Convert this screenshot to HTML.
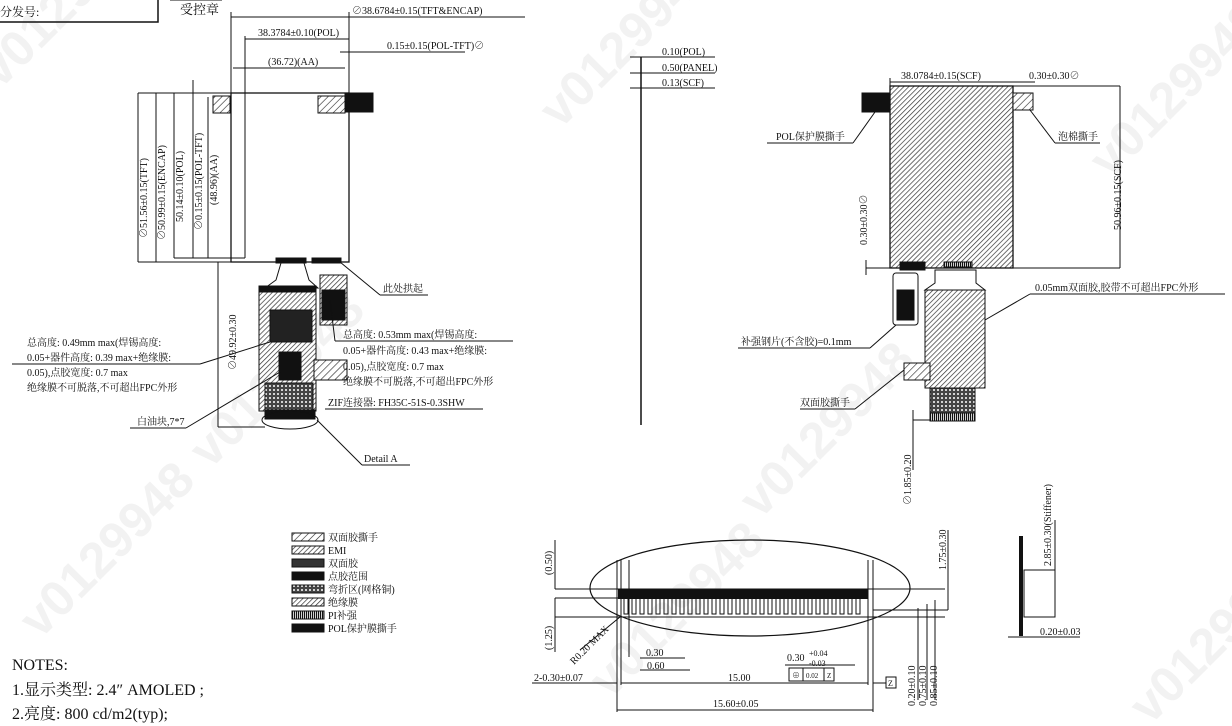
<!DOCTYPE html>
<html><head><meta charset="utf-8"><style>
html,body{margin:0;padding:0;background:#fff;}
svg{display:block;}
text{font-family:"Liberation Serif","Noto Serif CJK SC","Noto Sans CJK SC",serif;fill:#111;}
.s{font-size:10px;}
.wm text{font-family:"Liberation Sans",sans-serif;font-weight:bold;font-size:50px;fill:#f2f2f2;}
</style></head><body>
<svg width="1232" height="726" viewBox="0 0 1232 726" xmlns="http://www.w3.org/2000/svg">
<defs>
<pattern id="h" width="5" height="5" patternUnits="userSpaceOnUse" patternTransform="rotate(45)"><rect width="5" height="5" fill="#fff"/><line x1="0" y1="0" x2="0" y2="5" stroke="#222" stroke-width="1.2"/></pattern>
<pattern id="hd" width="3.5" height="3.5" patternUnits="userSpaceOnUse" patternTransform="rotate(45)"><rect width="4" height="4" fill="#fff"/><line x1="0" y1="0" x2="0" y2="4" stroke="#333" stroke-width="1.4"/></pattern>
<pattern id="m" width="4" height="4" patternUnits="userSpaceOnUse"><rect width="4" height="4" fill="#444"/><circle cx="2" cy="2" r="1" fill="#fff"/></pattern>
<pattern id="v" width="2" height="4" patternUnits="userSpaceOnUse"><rect width="2" height="4" fill="#fff"/><rect width="1.2" height="4" fill="#111"/></pattern>
</defs>
<g class="wm">
<text transform="translate(0,90) rotate(-45)">v0129948</text>
<text transform="translate(560,130) rotate(-45)">v0129948</text>
<text transform="translate(1110,180) rotate(-45)">v0129948</text>
<text transform="translate(210,470) rotate(-45)">v0129948</text>
<text transform="translate(760,520) rotate(-45)">v0129948</text>
<text transform="translate(40,640) rotate(-45)">v0129948</text>
<text transform="translate(610,700) rotate(-45)">v0129948</text>
<text transform="translate(1150,726) rotate(-45)">v0129948</text>
</g>
<g stroke="#111" fill="none" stroke-width="1">
<rect x="-2" y="-2" width="160" height="24" stroke-width="1.5"/>
<line x1="170" y1="0" x2="222" y2="0"/>
<line x1="231" y1="17" x2="525" y2="17"/><line x1="231" y1="12" x2="231" y2="93"/><line x1="349" y1="12" x2="349" y2="262"/>
<line x1="245" y1="39" x2="349" y2="39"/><line x1="245" y1="36" x2="245" y2="93"/>
<line x1="340" y1="52" x2="465" y2="52"/>
<line x1="233" y1="68" x2="345" y2="68"/>
<line x1="138" y1="93" x2="349" y2="93"/><line x1="138" y1="262" x2="349" y2="262"/>
<line x1="138" y1="93" x2="138" y2="262"/><line x1="156" y1="93" x2="156" y2="262"/><line x1="174" y1="93" x2="174" y2="258"/><line x1="193" y1="80" x2="193" y2="258"/><line x1="208" y1="97" x2="208" y2="258"/>
<line x1="174" y1="258" x2="245" y2="258"/>
<rect x="231" y="93" width="118" height="169" stroke-width="1.3"/>
<line x1="245" y1="93" x2="245" y2="258"/>
<rect x="213" y="96" width="17" height="17" fill="url(#h)"/>
<rect x="318" y="96" width="27" height="17" fill="url(#h)"/>
<rect x="345" y="93" width="28" height="19" fill="#111"/>
<rect x="276" y="258" width="30" height="5" fill="#111"/>
<rect x="312" y="258" width="29" height="5" fill="#111"/>
<path d="M281 263 L276 280 L265 288 L318 288 L309 280 L304 263"/>
<rect x="259" y="286" width="57" height="125" fill="url(#hd)"/>
<rect x="259" y="286" width="57" height="6" fill="#111"/>
<rect x="270" y="310" width="42" height="32" fill="#222"/>
<rect x="279" y="352" width="22" height="28" fill="#111"/>
<rect x="265" y="383" width="48" height="27" fill="url(#m)"/>
<rect x="265" y="410" width="50" height="9" fill="#111"/>
<ellipse cx="290" cy="420" rx="28" ry="9"/>
<rect x="320" y="275" width="27" height="50" fill="url(#hd)"/>
<rect x="322" y="290" width="23" height="30" fill="#111"/>
<rect x="314" y="360" width="33" height="20" fill="url(#h)"/>
<line x1="218" y1="262" x2="218" y2="427"/><line x1="218" y1="427" x2="265" y2="427"/>
<line x1="340" y1="262" x2="380" y2="295"/><line x1="380" y1="295" x2="428" y2="295"/>
<line x1="12" y1="364" x2="200" y2="364"/><line x1="200" y1="364" x2="270" y2="342"/>
<line x1="335" y1="341" x2="513" y2="341"/><line x1="335" y1="341" x2="330" y2="300"/>
<line x1="325" y1="409" x2="483" y2="409"/>
<line x1="130" y1="428" x2="186" y2="428"/><line x1="186" y1="428" x2="280" y2="372"/>
<line x1="317" y1="420" x2="362" y2="465"/><line x1="362" y1="465" x2="410" y2="465"/>
<line x1="641" y1="57" x2="641" y2="425" stroke-width="1.5"/>
<line x1="630" y1="57" x2="715" y2="57"/><line x1="630" y1="73" x2="715" y2="73"/><line x1="630" y1="88" x2="715" y2="88"/>
<rect x="890" y="86" width="123" height="182" fill="url(#hd)" stroke-width="1.3"/>
<rect x="862" y="93" width="28" height="19" fill="#111"/>
<rect x="1013" y="93" width="20" height="17" fill="url(#h)"/>
<line x1="890" y1="82" x2="1013" y2="82"/><line x1="890" y1="78" x2="890" y2="86"/><line x1="1013" y1="82" x2="1035" y2="82"/>
<line x1="1013" y1="86" x2="1120" y2="86"/><line x1="1120" y1="86" x2="1120" y2="268"/><line x1="1013" y1="268" x2="1120" y2="268"/>
<line x1="866" y1="268" x2="890" y2="268"/><line x1="866" y1="260" x2="866" y2="275"/>
<line x1="767" y1="143" x2="853" y2="143"/><line x1="853" y1="143" x2="875" y2="112"/>
<line x1="1055" y1="143" x2="1100" y2="143"/><line x1="1055" y1="143" x2="1030" y2="110"/>
<rect x="900" y="262" width="25" height="8" fill="#111"/>
<rect x="944" y="262" width="28" height="5" fill="url(#v)"/>
<rect x="893" y="273" width="25" height="52" rx="3"/>
<rect x="897" y="290" width="17" height="30" fill="#111"/>
<path d="M935 270 L935 283 L925 290 L985 290 L976 283 L976 270Z"/>
<rect x="925" y="290" width="60" height="98" fill="url(#hd)"/>
<rect x="904" y="363" width="26" height="17" fill="url(#h)"/>
<rect x="930" y="388" width="45" height="25" fill="url(#m)"/>
<rect x="930" y="413" width="45" height="8" fill="url(#v)"/>
<line x1="1030" y1="294" x2="1225" y2="294"/><line x1="1030" y1="294" x2="985" y2="320"/>
<line x1="738" y1="348" x2="870" y2="348"/><line x1="870" y1="348" x2="896" y2="325"/>
<line x1="800" y1="409" x2="855" y2="409"/><line x1="855" y1="409" x2="904" y2="370"/>
<line x1="913" y1="410" x2="913" y2="470"/><line x1="913" y1="420" x2="930" y2="420"/>
<rect x="1019" y="536" width="4" height="100" fill="#111" stroke="none"/>
<rect x="1024" y="570" width="31" height="47"/>
<line x1="1055" y1="520" x2="1055" y2="617"/>
<line x1="1008" y1="637" x2="1080" y2="637"/>
<ellipse cx="750" cy="588" rx="160" ry="48" stroke-width="1.2"/>
<line x1="555" y1="589" x2="945" y2="589"/><line x1="555" y1="598" x2="618" y2="598"/><line x1="555" y1="617" x2="945" y2="617"/>
<line x1="555" y1="540" x2="555" y2="589"/><line x1="555" y1="598" x2="555" y2="652"/>
<line x1="617" y1="560" x2="617" y2="712"/><line x1="621" y1="560" x2="621" y2="685"/><line x1="629" y1="560" x2="629" y2="657"/>
<line x1="868" y1="560" x2="868" y2="685"/><line x1="873" y1="560" x2="873" y2="712"/>
<line x1="617" y1="710" x2="873" y2="710"/><line x1="621" y1="683" x2="868" y2="683"/>
<line x1="532" y1="683" x2="617" y2="683"/><line x1="640" y1="658" x2="685" y2="658"/><line x1="640" y1="670" x2="690" y2="670"/>
<line x1="785" y1="665" x2="855" y2="665"/>
<line x1="873" y1="683" x2="886" y2="683"/>
<rect x="789" y="668" width="45" height="13"/><line x1="803" y1="668" x2="803" y2="681"/><line x1="824" y1="668" x2="824" y2="681"/>
<rect x="886" y="677" width="10" height="11"/>
<line x1="935" y1="600" x2="935" y2="700"/><line x1="918" y1="608" x2="918" y2="700"/><line x1="927" y1="604" x2="927" y2="700"/>
<line x1="948" y1="530" x2="948" y2="610"/><line x1="873" y1="610" x2="948" y2="610"/>
<line x1="580" y1="650" x2="620" y2="617"/>
</g>
<rect x="618" y="589" width="250" height="10" fill="#111"/>
<path stroke="#111" fill="none" d="M624 598 v16 h4 v-16 M632 598 v16 h4 v-16 M640 598 v16 h4 v-16 M648 598 v16 h4 v-16 M656 598 v16 h4 v-16 M664 598 v16 h4 v-16 M672 598 v16 h4 v-16 M680 598 v16 h4 v-16 M688 598 v16 h4 v-16 M696 598 v16 h4 v-16 M704 598 v16 h4 v-16 M712 598 v16 h4 v-16 M720 598 v16 h4 v-16 M728 598 v16 h4 v-16 M736 598 v16 h4 v-16 M744 598 v16 h4 v-16 M752 598 v16 h4 v-16 M760 598 v16 h4 v-16 M768 598 v16 h4 v-16 M776 598 v16 h4 v-16 M784 598 v16 h4 v-16 M792 598 v16 h4 v-16 M800 598 v16 h4 v-16 M808 598 v16 h4 v-16 M816 598 v16 h4 v-16 M824 598 v16 h4 v-16 M832 598 v16 h4 v-16 M840 598 v16 h4 v-16 M848 598 v16 h4 v-16 M856 598 v16 h4 v-16"/>
<g stroke="#111">
<rect x="292" y="533" width="32" height="8" fill="url(#h)"/>
<rect x="292" y="546" width="32" height="8" fill="url(#hd)"/>
<rect x="292" y="559" width="32" height="8" fill="#333"/>
<rect x="292" y="572" width="32" height="8" fill="#111"/>
<rect x="292" y="585" width="32" height="8" fill="url(#m)"/>
<rect x="292" y="598" width="32" height="8" fill="url(#hd)"/>
<rect x="292" y="611" width="32" height="8" fill="url(#v)"/>
<rect x="292" y="624" width="32" height="8" fill="#111"/>
</g>
<g class="s">
<text x="328" y="541">双面胶撕手</text><text x="328" y="554">EMI</text><text x="328" y="567">双面胶</text><text x="328" y="580">点胶范围</text><text x="328" y="593">弯折区(网格铜)</text><text x="328" y="606">绝缘膜</text><text x="328" y="619">PI补强</text><text x="328" y="632">POL保护膜撕手</text>
</g>
<g style="font-size:16px">
<text x="12" y="670">NOTES:</text>
<text x="12" y="695">1.显示类型: 2.4″ AMOLED ;</text>
<text x="12" y="719">2.亮度: 800 cd/m2(typ);</text>
</g>
<g class="s">
<text x="0" y="16" style="font-size:12px">分发号:</text>
<text x="180" y="14" style="font-size:13px">受控章</text>
<text x="352" y="14">⊘38.6784±0.15(TFT&amp;ENCAP)</text>
<text x="258" y="36">38.3784±0.10(POL)</text>
<text x="387" y="49">0.15±0.15(POL-TFT)⊘</text>
<text x="268" y="65">(36.72)(AA)</text>
<text transform="translate(147,238) rotate(-90)">⊘51.56±0.15(TFT)</text>
<text transform="translate(165,240) rotate(-90)">⊘50.99±0.15(ENCAP)</text>
<text transform="translate(183,222) rotate(-90)">50.14±0.10(POL)</text>
<text transform="translate(202,230) rotate(-90)">⊘0.15±0.15(POL-TFT)</text>
<text transform="translate(217,205) rotate(-90)">(48.96)(AA)</text>
<text transform="translate(236,370) rotate(-90)">⊘49.92±0.30</text>
<text x="383" y="292">此处拱起</text>
<text x="27" y="346">总高度: 0.49mm max(焊锡高度:</text>
<text x="27" y="361">0.05+器件高度: 0.39 max+绝缘膜:</text>
<text x="27" y="376">0.05),点胶宽度: 0.7 max</text>
<text x="27" y="391">绝缘膜不可脱落,不可超出FPC外形</text>
<text x="343" y="338">总高度: 0.53mm max(焊锡高度:</text>
<text x="343" y="354">0.05+器件高度: 0.43 max+绝缘膜:</text>
<text x="343" y="370">0.05),点胶宽度: 0.7 max</text>
<text x="343" y="385">绝缘膜不可脱落,不可超出FPC外形</text>
<text x="328" y="406">ZIF连接器: FH35C-51S-0.3SHW</text>
<text x="137" y="425">白油块,7*7</text>
<text x="364" y="462">Detail A</text>
<text x="662" y="55">0.10(POL)</text>
<text x="662" y="71">0.50(PANEL)</text>
<text x="662" y="86">0.13(SCF)</text>
<text x="901" y="79">38.0784±0.15(SCF)</text>
<text x="1029" y="79">0.30±0.30⊘</text>
<text transform="translate(1121,230) rotate(-90)">50.96±0.15(SCF)</text>
<text transform="translate(867,245) rotate(-90)">0.30±0.30⊘</text>
<text x="776" y="140">POL保护膜撕手</text>
<text x="1058" y="140">泡棉撕手</text>
<text x="1035" y="291">0.05mm双面胶,胶带不可超出FPC外形</text>
<text x="741" y="345">补强钢片(不含胶)=0.1mm</text>
<text x="800" y="406">双面胶撕手</text>
<text transform="translate(911,505) rotate(-90)">⊘1.85±0.20</text>
<text transform="translate(1051,566) rotate(-90)">2.85±0.30(Stiffener)</text>
<text x="1040" y="635">0.20±0.03</text>
<text transform="translate(552,575) rotate(-90)">(0.50)</text>
<text transform="translate(552,650) rotate(-90)">(1.25)</text>
<text transform="translate(574,665) rotate(-45)">R0.20 MAX</text>
<text x="646" y="656">0.30</text>
<text x="647" y="669">0.60</text>
<text x="534" y="681">2-0.30±0.07</text>
<text x="728" y="681">15.00</text>
<text x="713" y="707">15.60±0.05</text>
<text x="787" y="661">0.30</text><text x="809" y="656" style="font-size:8px">+0.04</text><text x="809" y="666" style="font-size:8px">-0.03</text>
<text x="792" y="678" style="font-size:8px">⊕</text><text x="806" y="678" style="font-size:7px">0.02</text><text x="827" y="678" style="font-size:7px">Z</text>
<text x="888" y="686" style="font-size:8px">Z</text>
<text transform="translate(915,706) rotate(-90)">0.20±0.10</text>
<text transform="translate(926,706) rotate(-90)">0.75±0.10</text>
<text transform="translate(937,706) rotate(-90)">0.85±0.10</text>
<text transform="translate(946,570) rotate(-90)">1.75±0.30</text>
</g>
</svg>
</body></html>
